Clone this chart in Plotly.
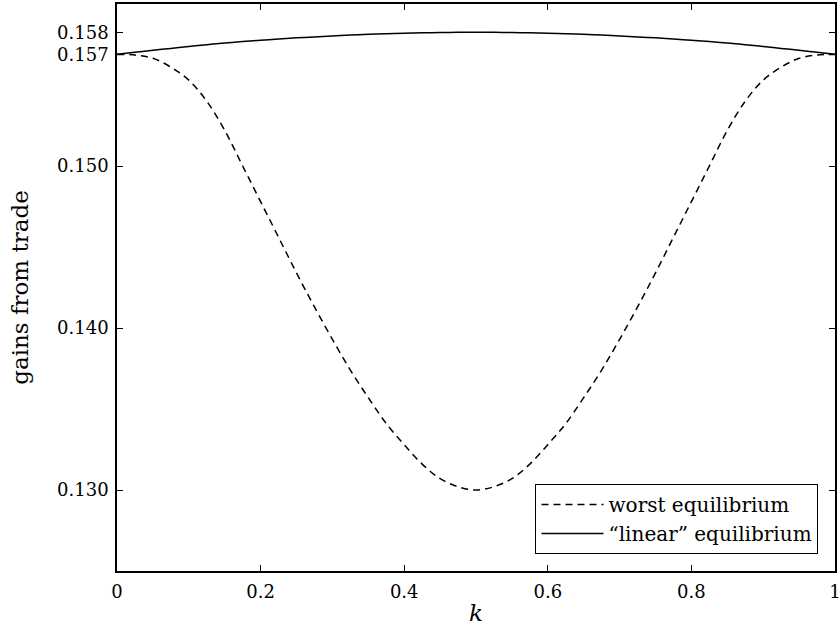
import plotly.graph_objects as go

# k grid (read at steps of 0.025)
k_values = [0.0, 0.025, 0.05, 0.075, 0.1, 0.125, 0.15, 0.175, 0.2, 0.225, 0.25,
            0.275, 0.3, 0.325, 0.35, 0.375, 0.4, 0.425, 0.45, 0.475, 0.5,
            0.525, 0.55, 0.575, 0.6, 0.625, 0.65, 0.675, 0.7, 0.725, 0.75,
            0.775, 0.8, 0.825, 0.85, 0.875, 0.9, 0.925, 0.95, 0.975, 1.0]

worst_eq = [0.15689, 0.15685, 0.15665, 0.1561, 0.1553, 0.1540, 0.1522, 0.1500, 0.1478, 0.1456, 0.1434,
            0.1413, 0.1393, 0.1374, 0.1357, 0.1341, 0.1328, 0.1316, 0.1307, 0.1302, 0.1300,
            0.1302, 0.1307, 0.1316, 0.1328, 0.1341, 0.1357, 0.1374, 0.1393, 0.1413, 0.1434,
            0.1456, 0.1478, 0.1500, 0.1522, 0.1540, 0.1553, 0.1561, 0.15665, 0.15685, 0.15689]

linear_eq = [0.15689, 0.15702, 0.15714, 0.15726, 0.15738, 0.15749, 0.15759, 0.15768, 0.15776, 0.15784, 0.15791,
             0.15797, 0.15803, 0.15808, 0.15813, 0.15817, 0.15820, 0.15822, 0.15824, 0.15825, 0.15825,
             0.15825, 0.15824, 0.15822, 0.15820, 0.15817, 0.15813, 0.15808, 0.15803, 0.15797, 0.15791,
             0.15784, 0.15776, 0.15768, 0.15759, 0.15749, 0.15738, 0.15726, 0.15714, 0.15702, 0.15689]

x_tickvals = [0, 0.2, 0.4, 0.6, 0.8, 1]
x_ticktext = ["0", "0.2", "0.4", "0.6", "0.8", "1"]
y_tickvals = [0.130, 0.140, 0.150, 0.15689, 0.15825]
y_ticktext = ["0.130", "0.140", "0.150", "0.157", "0.158"]

FONT = "DejaVu Serif"

fig = go.Figure()
fig.add_trace(go.Scatter(
    x=k_values, y=worst_eq, mode="lines", name="worst equilibrium",
    line=dict(color="black", width=1.5, dash="7px,5px", shape="spline"),
))
fig.add_trace(go.Scatter(
    x=k_values, y=linear_eq, mode="lines", name="\u201clinear\u201d equilibrium",
    line=dict(color="black", width=1.5, shape="spline"),
))

axis_common = dict(
    showline=True, linecolor="black", linewidth=1.5, mirror="ticks",
    ticks="inside", ticklen=6, tickwidth=1, tickcolor="black",
    showgrid=False, zeroline=False, automargin=False,
    ticklabeloverflow="allow",
    tickfont=dict(family=FONT, size=18, color="black"),
)

fig.update_xaxes(range=[0, 1], tickvals=x_tickvals, ticktext=x_ticktext,
                 ticklabelstandoff=4,
                 title=dict(text="<i>k</i>", font=dict(family=FONT, size=23, color="black"), standoff=4),
                 **axis_common)
fig.update_yaxes(range=[0.125, 0.160], tickvals=y_tickvals, ticktext=y_ticktext,
                 ticklabelstandoff=3,
                 title=dict(text="gains from trade", font=dict(family=FONT, size=23, color="black"), standoff=22),
                 **axis_common)

fig.update_layout(
    width=840, height=639,
    margin=dict(l=117, r=5, t=4, b=68),
    plot_bgcolor="white", paper_bgcolor="white",
    font=dict(family=FONT, color="black"),
    legend=dict(x=0.977, y=0.03, xanchor="right", yanchor="bottom",
                bordercolor="black", borderwidth=1, bgcolor="white",
                font=dict(family=FONT, size=20, color="black"),
                itemwidth=62, tracegroupgap=0),
    showlegend=True,
)

fig.write_html("out.html",
               config={"displayModeBar": False},
               post_script="document.body.style.margin='0';document.body.style.padding='0';")
